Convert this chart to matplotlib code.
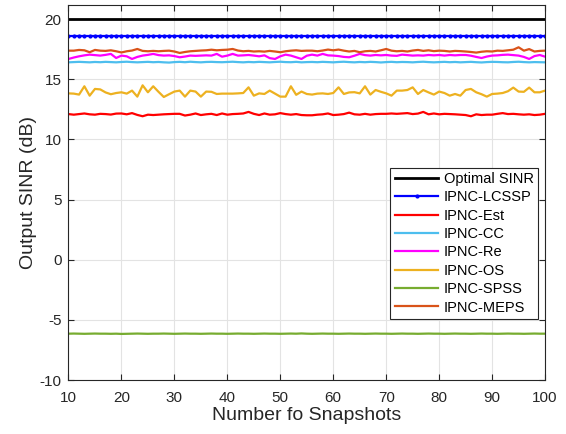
import matplotlib
matplotlib.use('Agg')
import matplotlib.pyplot as plt

plt.rcParams['font.family'] = ['Liberation Sans', 'DejaVu Sans']
plt.rcParams['axes.unicode_minus'] = False

snapshots = list(range(10, 101))

optimal_sinr = [20.0] * 91
ipnc_lcssp = [18.56] * 91

ipnc_est = [12.10, 12.05, 12.10, 12.15, 12.08, 12.05, 12.12, 12.10, 12.06, 12.14,
            12.15, 12.08, 12.18, 12.03, 11.92, 12.05, 12.02, 12.05, 12.08, 12.10,
            12.12, 12.12, 11.98, 12.05, 12.15, 12.02, 12.08, 12.12, 12.02, 12.15,
            12.05, 12.10, 12.12, 12.15, 12.28, 12.12, 12.02, 12.15, 12.05, 12.08,
            12.18, 12.10, 12.05, 12.10, 12.02, 12.00, 12.00, 12.05, 12.08, 12.15,
            12.02, 12.05, 12.10, 12.22, 12.08, 12.05, 12.12, 12.05, 12.10, 12.12,
            12.12, 12.15, 12.12, 12.15, 12.18, 12.10, 12.14, 12.28, 12.08, 12.15,
            12.08, 12.12, 12.10, 12.08, 12.05, 12.02, 11.92, 12.08, 12.02, 12.05,
            12.05, 12.12, 12.18, 12.10, 12.12, 12.08, 12.05, 12.08, 12.02, 12.05,
            12.12]

ipnc_cc = [16.40, 16.42, 16.44, 16.42, 16.40, 16.43, 16.41, 16.44, 16.42, 16.40,
           16.43, 16.45, 16.42, 16.40, 16.42, 16.44, 16.41, 16.43, 16.40, 16.38,
           16.42, 16.44, 16.41, 16.45, 16.42, 16.40, 16.43, 16.44, 16.42, 16.41,
           16.43, 16.45, 16.42, 16.40, 16.43, 16.41, 16.44, 16.42, 16.40, 16.43,
           16.45, 16.42, 16.41, 16.44, 16.40, 16.42, 16.43, 16.41, 16.44, 16.42,
           16.40, 16.43, 16.45, 16.42, 16.40, 16.43, 16.41, 16.44, 16.42, 16.39,
           16.42, 16.44, 16.41, 16.43, 16.42, 16.40, 16.43, 16.45, 16.42, 16.40,
           16.42, 16.44, 16.41, 16.43, 16.40, 16.42, 16.44, 16.41, 16.39, 16.42,
           16.44, 16.43, 16.41, 16.40, 16.43, 16.45, 16.42, 16.40, 16.42, 16.41,
           16.40]

ipnc_re = [16.68, 16.80, 16.90, 16.98, 17.04, 17.00, 16.96, 17.02, 17.10, 16.76,
           16.96, 16.90, 16.68, 16.85, 16.96, 17.02, 17.10, 17.00, 16.96, 16.98,
           16.92, 16.82, 16.88, 16.96, 16.94, 16.96, 16.98, 16.96, 17.10, 16.87,
           16.96, 17.10, 16.96, 16.98, 17.01, 16.96, 16.90, 16.98, 16.75, 16.68,
           16.90, 17.04, 16.96, 16.82, 16.68, 16.95, 17.04, 16.96, 17.10, 16.98,
           16.96, 16.92, 16.85, 16.82, 16.95, 17.10, 17.00, 16.96, 17.01, 16.98,
           17.01, 16.96, 16.94, 17.04, 17.00, 16.96, 16.98, 16.96, 17.01, 16.98,
           17.01, 16.96, 17.01, 16.98, 17.01, 17.01, 16.95, 16.85, 16.76, 16.88,
           16.96, 16.98, 17.02, 17.04, 17.00, 16.96, 16.85, 16.68, 16.92, 17.01,
           16.87]

ipnc_os = [13.82, 13.80, 13.72, 14.41, 13.63, 14.19, 14.15, 13.90, 13.75, 13.85,
           13.91, 13.80, 14.05, 13.55, 14.49, 13.91, 14.41, 13.95, 13.52, 13.75,
           13.97, 14.05, 13.55, 14.05, 13.97, 13.55, 13.97, 13.95, 13.77, 13.80,
           13.80, 13.80, 13.82, 13.85, 14.32, 13.63, 13.82, 13.77, 14.05, 13.80,
           13.55, 13.55, 14.41, 13.70, 13.97, 13.77, 13.72, 13.80, 13.82, 13.77,
           13.85, 14.32, 13.77, 13.90, 13.92, 13.82, 14.41, 13.72, 14.10, 13.95,
           13.82, 13.63, 14.05, 14.05, 14.10, 14.32, 13.77, 14.10, 13.90, 13.72,
           13.97, 13.85, 13.63, 13.77, 13.63, 14.10, 14.19, 13.91, 13.75, 13.55,
           13.77, 13.80, 13.85, 14.00, 14.30, 13.97, 13.95, 14.30, 13.91, 13.91,
           14.05]

ipnc_spss = [-6.15, -6.14, -6.15, -6.16, -6.15, -6.14, -6.15, -6.15, -6.16, -6.15,
             -6.17, -6.16, -6.15, -6.14, -6.15, -6.16, -6.15, -6.15, -6.14, -6.15,
             -6.16, -6.15, -6.14, -6.15, -6.15, -6.16, -6.15, -6.14, -6.15, -6.15,
             -6.16, -6.15, -6.14, -6.15, -6.15, -6.16, -6.15, -6.14, -6.15, -6.15,
             -6.16, -6.15, -6.14, -6.15, -6.13, -6.15, -6.16, -6.15, -6.14, -6.15,
             -6.15, -6.16, -6.15, -6.14, -6.15, -6.15, -6.16, -6.15, -6.14, -6.15,
             -6.15, -6.16, -6.15, -6.14, -6.15, -6.15, -6.16, -6.15, -6.14, -6.15,
             -6.15, -6.16, -6.15, -6.14, -6.15, -6.15, -6.16, -6.15, -6.14, -6.15,
             -6.15, -6.16, -6.15, -6.14, -6.15, -6.15, -6.16, -6.15, -6.14, -6.15,
             -6.15]

ipnc_meps = [17.37, 17.37, 17.43, 17.40, 17.24, 17.43, 17.37, 17.35, 17.40, 17.32,
             17.22, 17.32, 17.38, 17.51, 17.35, 17.32, 17.35, 17.32, 17.35, 17.37,
             17.30, 17.18, 17.26, 17.32, 17.35, 17.38, 17.40, 17.45, 17.40, 17.43,
             17.45, 17.51, 17.38, 17.32, 17.35, 17.30, 17.32, 17.29, 17.35, 17.30,
             17.24, 17.32, 17.37, 17.40, 17.35, 17.37, 17.37, 17.32, 17.38, 17.46,
             17.40, 17.46, 17.37, 17.30, 17.35, 17.24, 17.32, 17.35, 17.30, 17.40,
             17.51, 17.37, 17.32, 17.35, 17.30, 17.38, 17.43, 17.35, 17.40, 17.33,
             17.37, 17.35, 17.30, 17.35, 17.33, 17.30, 17.26, 17.21, 17.28, 17.32,
             17.30, 17.37, 17.35, 17.40, 17.45, 17.65, 17.37, 17.50, 17.30, 17.35,
             17.37]

fig = plt.figure(figsize=(5.66, 4.34), dpi=100)
ax = fig.add_axes([0.121, 0.1244, 0.842, 0.8634])

ax.plot(snapshots, optimal_sinr, color='black', lw=2, label='Optimal SINR')
ax.plot(snapshots, ipnc_lcssp, color='#0000FF', lw=1.6, marker='.', markersize=4, label='IPNC-LCSSP')
ax.plot(snapshots, ipnc_est, color='#FF0000', lw=1.6, label='IPNC-Est')
ax.plot(snapshots, ipnc_cc, color='#4DBEEE', lw=1.6, label='IPNC-CC')
ax.plot(snapshots, ipnc_re, color='#FF00FF', lw=1.6, label='IPNC-Re')
ax.plot(snapshots, ipnc_os, color='#EDB120', lw=1.6, label='IPNC-OS')
ax.plot(snapshots, ipnc_spss, color='#77AC30', lw=1.6, label='IPNC-SPSS')
ax.plot(snapshots, ipnc_meps, color='#D95319', lw=1.6, label='IPNC-MEPS')

ax.set_xlim(10, 100)
ax.set_ylim(-10, 21.14)
ax.set_xticks(range(10, 101, 10))
ax.set_yticks(range(-10, 21, 5))
ax.grid(True, color='#E3E3E3', lw=0.8)
ax.set_axisbelow(True)
ax.tick_params(direction='in', top=True, right=True, length=4, labelsize=11, colors='#262626')
ax.tick_params(axis='x', pad=8)
ax.tick_params(axis='y', pad=5)
for s in ax.spines.values():
    s.set_color('#262626')
    s.set_linewidth(0.8)

ax.set_xlabel('Number fo Snapshots', fontsize=14, color='#262626', labelpad=1)
ax.set_ylabel('Output SINR (dB)', fontsize=14, color='#262626', labelpad=2)

leg = ax.legend(loc='lower right', bbox_to_anchor=(0.985, 0.163), fontsize=10.5,
                fancybox=False, framealpha=1, edgecolor='#262626',
                handlelength=3.0, handletextpad=0.35, labelspacing=0.3,
                borderpad=0.3, borderaxespad=0)
leg.get_frame().set_linewidth(0.8)

plt.savefig('out.png', dpi=100)
